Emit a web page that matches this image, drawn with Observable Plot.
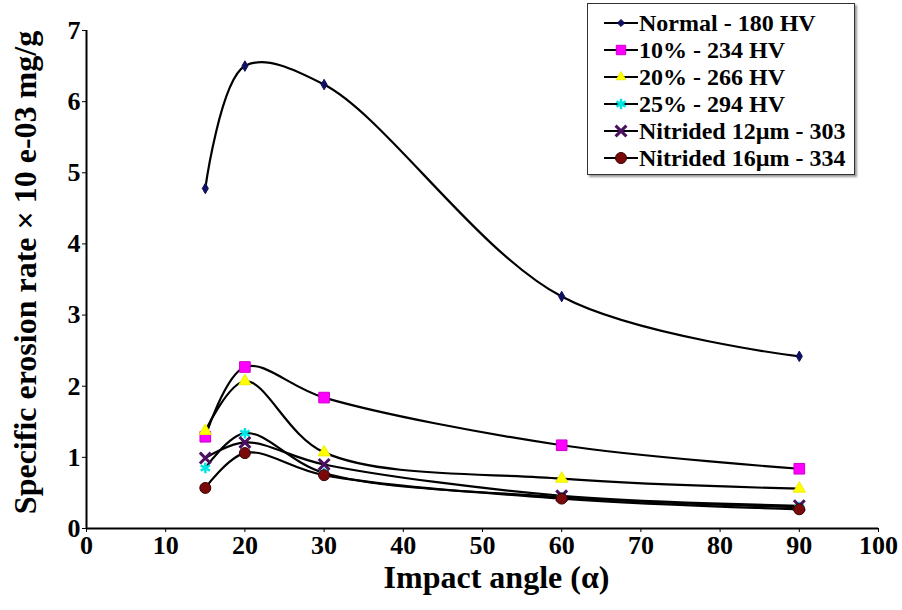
<!DOCTYPE html>
<html>
<head>
<meta charset="utf-8">
<script src="https://cdn.jsdelivr.net/npm/d3@7"></script>
<script src="https://cdn.jsdelivr.net/npm/@observablehq/plot@0.6"></script>
<style>
  html, body { margin: 0; padding: 0; background: #fff; }
  #wrap { position: relative; width: 902px; height: 610px; }
  #legend { position: absolute; left: 587px; top: 3px; width: 268px; height: 172px;
    border: 1.5px solid #333; box-shadow: 2px 2px 2px #999; background: #fff;
    font-family: "Liberation Serif", serif; font-weight: bold; font-size: 24px; box-sizing: border-box; }
  .row { position: absolute; left: 16px; height: 26px; display: flex; align-items: center; white-space: nowrap; }
  .row svg { margin-right: 1px; }
</style>
</head>
<body>
<div id="wrap"><div id="chart"></div><div id="legend"></div></div>
<script>
const angles = [15, 20, 30, 60, 90];
const seriesNames = ["Normal - 180 HV", "10% - 234 HV", "20% - 266 HV", "25% - 294 HV", "Nitrided 12\u00b5m - 303", "Nitrided 16\u00b5m - 334"];
const normal = [4.78, 6.50, 6.24, 3.26, 2.42];
const pct10 = [1.29, 2.27, 1.84, 1.17, 0.84];
const pct20 = [1.37, 2.07, 1.07, 0.70, 0.56];
const pct25 = [0.85, 1.34, 0.78, 0.44, 0.30];
const nit12 = [0.99, 1.21, 0.90, 0.46, 0.32];
const nit16 = [0.57, 1.06, 0.75, 0.42, 0.27];
const xTicks = [0, 10, 20, 30, 40, 50, 60, 70, 80, 90, 100];
const yTicks = [0, 1, 2, 3, 4, 5, 6, 7];
const xTitle = "Impact angle (\u03b1)";
const yTitle = "Specific erosion rate \u00d7 10 e-03 mg/g";

const seriesValues = [normal, pct10, pct20, pct25, nit12, nit16];
const styles = [
  {symbol: "diamond", fill: "#101060", stroke: "#101060", r: 3.2, sw: 1},
  {symbol: "square", fill: "#ff00ff", stroke: "#cc00cc", r: 6, sw: 1},
  {symbol: "triangle", fill: "#ffff00", stroke: "#eeee00", r: 4.5, sw: 1},
  {symbol: "asterisk", fill: "none", stroke: "#00e5e5", r: 5, sw: 2.5},
  {symbol: "times", fill: "none", stroke: "#4b1060", r: 5, sw: 3},
  {symbol: "circle", fill: "#7a0a0a", stroke: "#3a0000", r: 5.5, sw: 1}
];

const data = [];
seriesValues.forEach((vals, i) => vals.forEach((v, j) => data.push({series: seriesNames[i], idx: i, x: angles[j], y: v})));

const marks = [
  Plot.ruleY([0], {stroke: "#000", strokeWidth: 2}),
  Plot.ruleX([0], {stroke: "#000", strokeWidth: 2}),
  Plot.axisX({ticks: xTicks, tickSize: 4, tickPadding: 3, fontSize: 26, label: null, tickFormat: d => String(d)}),
  Plot.axisY({ticks: yTicks, tickSize: 4, tickPadding: 2, fontSize: 26, label: null, tickFormat: d => String(d)}),
  Plot.line(data, {x: "x", y: "y", z: "series", curve: "catmull-rom", stroke: "#000", strokeWidth: 2.2})
];
styles.forEach((s, i) => {
  marks.push(Plot.dot(data.filter(d => d.idx === i), {x: "x", y: "y", symbol: () => s.symbol, r: s.r,
    fill: s.fill, stroke: s.stroke, strokeWidth: s.sw}));
});
marks.push(Plot.text([xTitle], {frameAnchor: "bottom", dy: 59, dx: 14, fontSize: 32, fontWeight: "bold", textAnchor: "middle", text: d => d}));
marks.push(Plot.text([yTitle], {frameAnchor: "left", dx: -61, dy: -7, rotate: -90, fontSize: 32, fontWeight: "bold", textAnchor: "middle", text: d => d}));

const chart = Plot.plot({
  width: 902, height: 610,
  marginLeft: 86, marginRight: 24, marginTop: 30, marginBottom: 82,
  x: {domain: [0, 100]},
  y: {domain: [0, 7]},
  symbol: {type: "identity"},
  style: {fontFamily: "Liberation Serif, serif", fontWeight: "bold", color: "#000", background: "#fff", overflow: "visible"},
  marks
});
document.getElementById("chart").appendChild(chart);

// legend
const legend = document.getElementById("legend");
const symPaths = {
  diamond: d3.symbolDiamond2, square: d3.symbolSquare2, triangle: d3.symbolTriangle2,
  asterisk: d3.symbolAsterisk, times: d3.symbolTimes, circle: d3.symbolCircle
};
seriesNames.forEach((name, i) => {
  const s = styles[i];
  const row = document.createElement("div");
  row.className = "row";
  row.style.top = (6 + i * 27) + "px";
  const area = Math.PI * s.r * s.r;
  const p = d3.symbol(symPaths[s.symbol] || d3.symbolCircle, area)();
  row.innerHTML = `<svg width="34" height="20"><line x1="0" y1="10" x2="34" y2="10" stroke="#000" stroke-width="2"/>` +
    `<path d="${p}" transform="translate(17,10)" fill="${s.fill}" stroke="${s.stroke}" stroke-width="${s.sw}"/></svg>`;
  const span = document.createElement("span");
  span.textContent = name;
  row.appendChild(span);
  legend.appendChild(row);
});
</script>
</body>
</html>
